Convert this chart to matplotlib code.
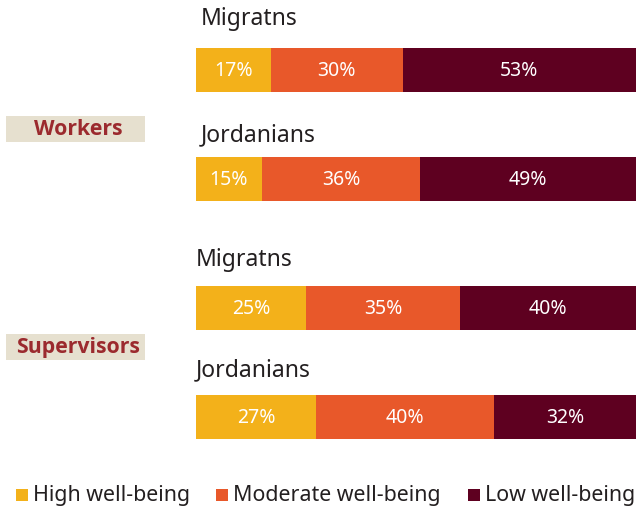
import matplotlib.pyplot as plt

plt.rcParams['font.family'] = ['Noto Sans', 'DejaVu Sans']

# Data
groups = ["Workers", "Supervisors"]
subgroups = ["Migratns", "Jordanians", "Migratns", "Jordanians"]
levels = ["High well-being", "Moderate well-being", "Low well-being"]
high = [17, 15, 25, 27]
moderate = [30, 36, 35, 40]
low = [53, 49, 40, 32]
colors = ['#f3b11a', '#e8582a', '#5e0020']

W, H = 636, 510
fig = plt.figure(figsize=(W / 100, H / 100), dpi=100)

# overlay axes in pixel coordinates for labels
ov = fig.add_axes([0, 0, 1, 1])
ov.set_xlim(0, W)
ov.set_ylim(H, 0)
ov.axis('off')

# bar axes
ax = fig.add_axes([196 / W, 0, 440 / W, 1])
ax.set_xlim(0, 100)
ax.set_ylim(H, 0)
ax.axis('off')

bar_y = [71, 180, 309, 418]
label_pos = [(201, 19), (201, 135), (196, 260), (196, 370)]

for i in range(4):
    vals = [high[i], moderate[i], low[i]]
    total = sum(vals)
    left = 0
    for v, c in zip(vals, colors):
        w = v / total * 100
        ax.barh(bar_y[i], w, left=left, height=44, color=c, linewidth=0)
        ax.text(left + w / 2, bar_y[i], f"{v}%", ha='center', va='center',
                color='white', fontsize=14)
        left += w
    ov.text(label_pos[i][0], label_pos[i][1], subgroups[i], ha='left', va='center',
            fontsize=16.5, color='#231f20')

# group labels with beige boxes
for g, yc in zip(groups, [130, 348]):
    ov.add_patch(plt.Rectangle((6, yc - 13), 139, 26, color='#e6e0cf', linewidth=0))
    ov.text(78, yc, g, ha='center', va='center', fontsize=15.3, fontweight='bold',
            color='#9b2a2e', family='Open Sans')

# legend
leg_x = [16, 216, 468]
for x, lab, c in zip(leg_x, levels, colors):
    ov.add_patch(plt.Rectangle((x, 490), 12, 12, color=c, linewidth=0))
    ov.text(x + 17, 496, lab, ha='left', va='center', fontsize=15.4, color='#231f20')

fig.savefig("out.png", dpi=100)
